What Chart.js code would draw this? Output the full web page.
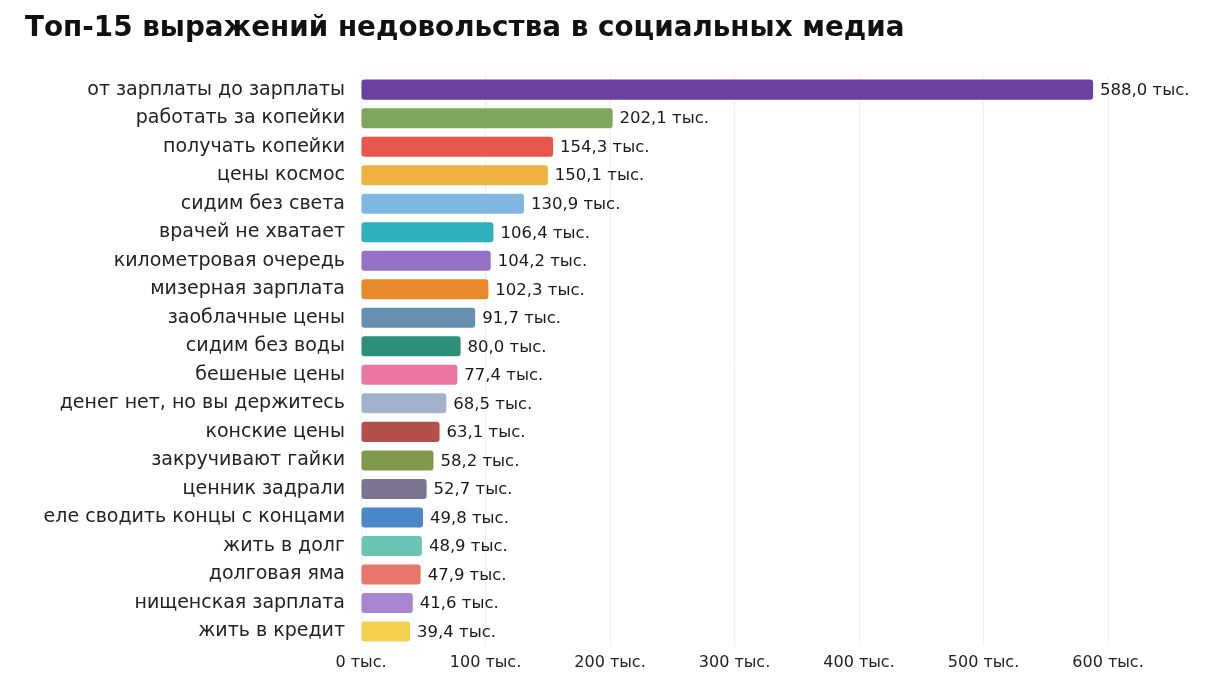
<!DOCTYPE html>
<html><head><meta charset="utf-8">
<script src="https://cdn.jsdelivr.net/npm/chart.js@4"></script>
<style>html,body{margin:0;padding:0;background:#fff;}#wrap{width:1208px;height:680px;position:relative;}</style>
</head><body><div id="wrap"><canvas id="c"></canvas></div>
<script>
const categories = ["от зарплаты до зарплаты","работать за копейки","получать копейки","цены космос","сидим без света","врачей не хватает","километровая очередь","мизерная зарплата","заоблачные цены","сидим без воды","бешеные цены","денег нет, но вы держитесь","конские цены","закручивают гайки","ценник задрали","еле сводить концы с концами","жить в долг","долговая яма","нищенская зарплата","жить в кредит"];
const values = [588.0,202.1,154.3,150.1,130.9,106.4,104.2,102.3,91.7,80.0,77.4,68.5,63.1,58.2,52.7,49.8,48.9,47.9,41.6,39.4];
const barColors = ["#6b40a0","#7fa65c","#e8564c","#f0b23e","#80b8e2","#2fb0bc","#9472c8","#e88a2a","#6690b2","#2e8f7a","#ee74a4","#a2b2cc","#b4504c","#7f9a4c","#7a7490","#4a88c8","#6cc4b4","#e8766c","#a886d4","#f4d04c"];
const xTicks = [0,100,200,300,400,500,600];
const unit = " тыс.";

const fmt = v => v.toFixed(1).replace('.', ',') + unit;
const FONT = "'DejaVu Sans', 'Noto Sans', sans-serif";

const valueLabels = {
  id: 'valueLabels',
  afterDatasetsDraw(chart) {
    const ctx = chart.ctx;
    const meta = chart.getDatasetMeta(0);
    ctx.save();
    ctx.font = "16.5px " + FONT;
    ctx.fillStyle = "#1a1a1a";
    ctx.textAlign = "left";
    ctx.textBaseline = "middle";
    meta.data.forEach((bar, i) => {
      ctx.fillText(fmt(values[i]), bar.x + 7, bar.y + 1);
    });
    ctx.restore();
  }
};

new Chart(document.getElementById('c'), {
  type: 'bar',
  data: {
    labels: categories,
    datasets: [{
      data: values,
      backgroundColor: barColors,
      borderRadius: 3,
      borderSkipped: false,
      barPercentage: 0.78,
      categoryPercentage: 0.9
    }]
  },
  options: {
    indexAxis: 'y',
    responsive: true,
    maintainAspectRatio: false,
    animation: false,
    layout: { padding: { left: 25, right: 100, top: 12, bottom: 1 } },
    plugins: {
      legend: { display: false },
      tooltip: { enabled: false },
      title: {
        display: true,
        text: "Топ-15 выражений недовольства в социальных медиа",
        align: 'start',
        color: '#111',
        font: { family: FONT, size: 27.8, weight: 'bold' },
        padding: { top: 0, bottom: 30 }
      }
    },
    scales: {
      x: {
        min: 0, max: 600,
        afterBuildTicks(axis) { axis.ticks = xTicks.map(v => ({ value: v })); },
        ticks: {
          callback: v => v + unit,
          color: '#222',
          font: { family: FONT, size: 16 },
          padding: 7
        },
        grid: { color: '#f0f0f0', drawTicks: false },
        border: { display: false }
      },
      y: {
        afterFit(axis) { axis.width = 336; },
        ticks: {
          color: '#222',
          font: { family: FONT, size: 19 },
          padding: 8,
          autoSkip: false
        },
        grid: { display: false },
        border: { display: false }
      }
    }
  },
  plugins: [valueLabels]
});
</script></body></html>
